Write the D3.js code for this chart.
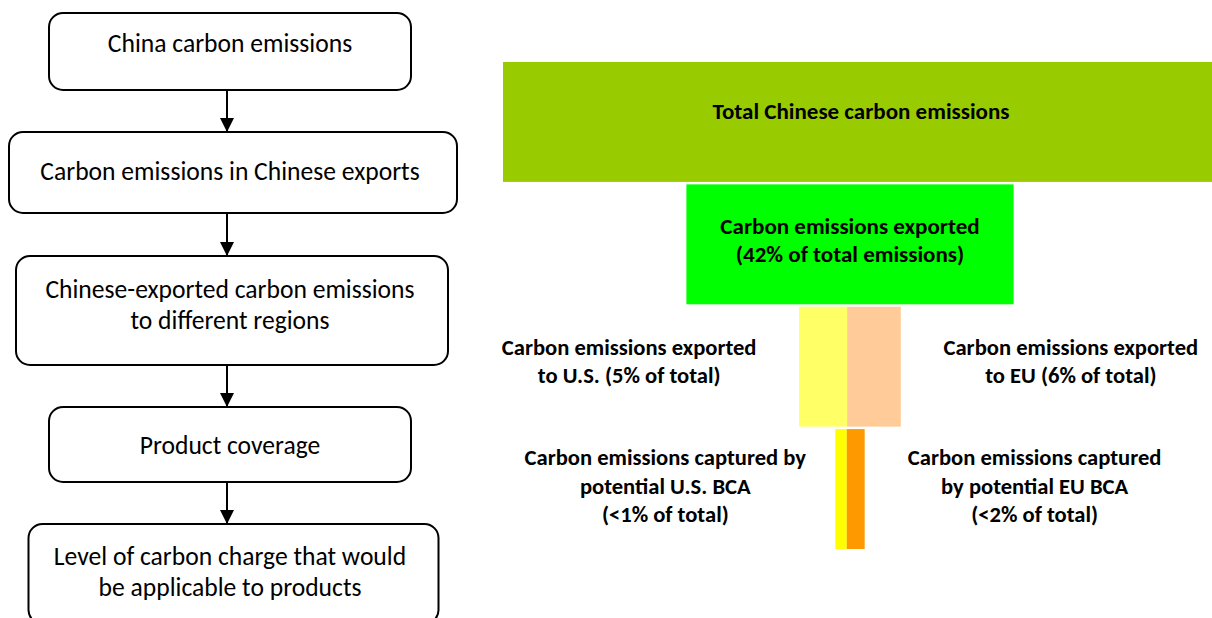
<!DOCTYPE html>
<html>
<head>
<meta charset="utf-8">
<script src="https://cdn.jsdelivr.net/npm/d3@7"></script>
<style>
  html, body { margin: 0; padding: 0; background: #fff; }
  svg { display: block; }
</style>
</head>
<body>
<svg id="chart" width="1212" height="618"></svg>
<script>
// Left: process flow steps (each entry = lines of one box)
const flowSteps = [
  ["China carbon emissions"],
  ["Carbon emissions in Chinese exports"],
  ["Chinese-exported carbon emissions", "to different regions"],
  ["Product coverage"],
  ["Level of carbon charge that would", "be applicable to products"],
];
const flowHalfWidths = [181, 224, 216, 181, 205]; // box half-widths
const flowCenters = [230, 233, 232, 230, 233.5];
const flowHeights = [77, 81, 109, 75, 100];
const flowBaseline = [39, 48, 42, 47, 41]; // first text baseline from box top

// Right: funnel levels, widths as drawn (share of total bar width)
const funnelLevels = ["total", "exported", "regions", "bca"];
const totalShare = [100];
const exportedShare = [45.7];
const usShares = [6.7, 1.6];   // U.S. at regions / BCA level
const euShares = [7.5, 2.5];   // EU at regions / BCA level

const funnelText = {
  total: ["Total Chinese carbon emissions"],
  exported: ["Carbon emissions exported", "(42% of total emissions)"],
  us: [["Carbon emissions exported", "to U.S. (5% of total)"],
       ["Carbon emissions captured by", "potential U.S. BCA", "(<1% of total)"]],
  eu: [["Carbon emissions exported", "to EU (6% of total)"],
       ["Carbon emissions captured", "by potential EU BCA", "(<2% of total)"]],
};
const colors = {
  total: "#99cc00", exported: "#00ff00",
  us: ["#ffff66", "#ffff00"], eu: ["#ffcc99", "#ff9900"],
};

const FONT = "Carlito, Lato, 'Open Sans', sans-serif";
const svg = d3.select("#chart");

// ---------- flow chart ----------
const SPINE = 227;
const flowY = d3.scaleOrdinal().domain(d3.range(flowSteps.length)).range([13, 132, 256, 407, 524]);

svg.append("defs").append("marker")
  .attr("id", "arrow").attr("viewBox", "0 0 10 10")
  .attr("refX", 10).attr("refY", 5)
  .attr("markerWidth", 14).attr("markerHeight", 16)
  .attr("markerUnits", "userSpaceOnUse")
  .attr("orient", "auto")
  .append("path").attr("d", "M0,0L10,5L0,10Z").attr("fill", "#000");

const flow = svg.append("g");
flowSteps.forEach((lines, i) => {
  const y0 = flowY(i), h = flowHeights[i], hw = flowHalfWidths[i], cx = flowCenters[i];
  flow.append("rect")
    .attr("x", cx - hw).attr("y", y0)
    .attr("width", hw * 2).attr("height", h)
    .attr("rx", 14).attr("ry", 14)
    .attr("fill", "#fff").attr("stroke", "#000").attr("stroke-width", 2);
  lines.forEach((t, j) => {
    flow.append("text")
      .attr("x", 230).attr("y", y0 + flowBaseline[i] + j * 31)
      .attr("text-anchor", "middle")
      .attr("font-family", FONT).attr("font-size", 25.6)
      .attr("fill", "#000")
      .text(t);
  });
  if (i < flowSteps.length - 1) {
    flow.append("line")
      .attr("x1", SPINE).attr("x2", SPINE)
      .attr("y1", y0 + h).attr("y2", flowY(i + 1))
      .attr("stroke", "#000").attr("stroke-width", 2)
      .attr("marker-end", "url(#arrow)");
  }
});

// ---------- funnel ----------
const x = d3.scaleLinear().domain([0, 100]).range([0, 716]);
const y = d3.scaleBand().domain(funnelLevels).range([62, 549]).paddingInner(0.02);
const TOP_LEFT = 503, CX = 850, LABEL_OFF = 170;

const funnel = svg.append("g");
const boldText = (g, lines, cx, base, lh, fs) => {
  lines.forEach((t, j) => {
    g.append("text")
      .attr("x", cx).attr("y", base + j * lh)
      .attr("text-anchor", "middle")
      .attr("font-family", FONT).attr("font-size", fs).attr("font-weight", "bold")
      .attr("fill", "#000")
      .text(t);
  });
};

// total
funnel.append("rect")
  .attr("x", TOP_LEFT).attr("y", y("total"))
  .attr("width", x(totalShare[0])).attr("height", y.bandwidth())
  .attr("fill", colors.total);
boldText(funnel, funnelText.total, TOP_LEFT + x(totalShare[0]) / 2, y("total") + 57, 28, 23);

// exported
funnel.append("rect")
  .attr("x", CX - x(exportedShare[0]) / 2).attr("y", y("exported"))
  .attr("width", x(exportedShare[0])).attr("height", y.bandwidth())
  .attr("fill", colors.exported);
boldText(funnel, funnelText.exported, CX, y("exported") + 50, 28, 23);

// regions + bca: U.S. on the left, EU on the right of a shared split
["regions", "bca"].forEach((lvl, k) => {
  const wUS = x(usShares[k]), wEU = x(euShares[k]);
  const left = CX - (wUS + wEU) / 2;
  funnel.append("rect")
    .attr("x", left).attr("y", y(lvl))
    .attr("width", wUS).attr("height", y.bandwidth())
    .attr("fill", colors.us[k]);
  funnel.append("rect")
    .attr("x", left + wUS).attr("y", y(lvl))
    .attr("width", wEU).attr("height", y.bandwidth())
    .attr("fill", colors.eu[k]);
  const base = k === 0 ? y(lvl) + 48 : y(lvl) + 36;
  boldText(funnel, funnelText.us[k], left - LABEL_OFF, base, 28.7, 22.6);
  boldText(funnel, funnelText.eu[k], left + wUS + wEU + LABEL_OFF, base, 28.7, 22.6);
});
</script>
</body>
</html>
